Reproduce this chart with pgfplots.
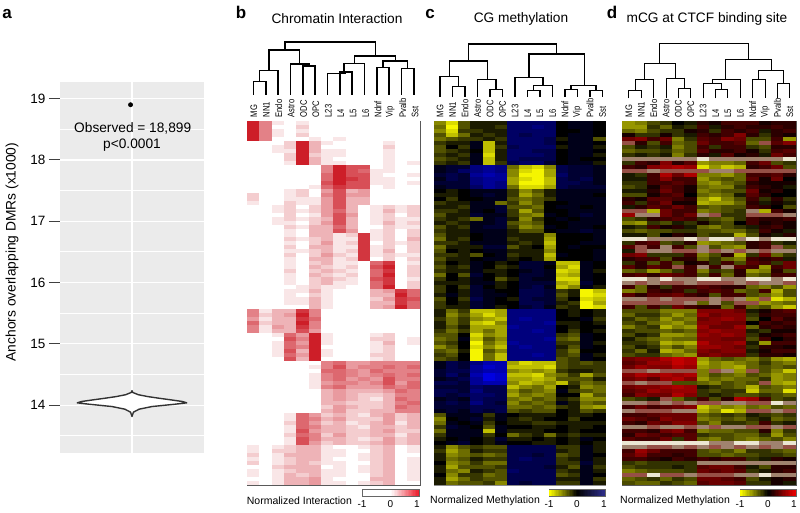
\documentclass[border=0pt]{standalone}
\usepackage{fontspec}
\setmainfont{Liberation Sans}
\usepackage{pgfplots}
\usepackage{pgfplotstable}
\pgfplotsset{compat=1.18}

\pgfplotsset{
  colormap={cb}{rgb255(0pt)=(255,255,255); rgb255(9pt)=(205,30,40)},
  colormap={cc}{rgb255(0pt)=(245,245,0); rgb255(9pt)=(0,0,0); rgb255(18pt)=(0,0,225)},
  colormap={cd}{rgb255(0pt)=(225,225,0); rgb255(9pt)=(0,0,0); rgb255(18pt)=(195,0,0); rgb255(19pt)=(150,80,70); rgb255(20pt)=(160,130,110); rgb255(21pt)=(235,230,210)},
  colormap={lb}{rgb255(0pt)=(255,255,255); rgb255(10pt)=(255,255,255); rgb255(20pt)=(235,25,40)},
  colormap={lc}{rgb255(0pt)=(255,255,0); rgb255(10pt)=(0,0,0); rgb255(20pt)=(45,45,140)},
  colormap={ld}{rgb255(0pt)=(255,255,0); rgb255(10pt)=(0,0,0); rgb255(20pt)=(240,0,0)},
}
\newcommand{\lab}[1]{\scalebox{.8}[1]{#1}}
\pgfdeclareplotmark{cell}{\pgfpathrectangle{\pgfpoint{-6.5pt}{-2.15pt}}{\pgfpoint{13pt}{4.3pt}}\pgfusepathqfill}
\pgfdeclareplotmark{barcell}{\pgfpathrectangle{\pgfpoint{-0.8pt}{-3.25pt}}{\pgfpoint{1.6pt}{6.5pt}}\pgfusepathqfill}
\pgfplotsset{
  heat/.style={scale only axis, anchor=south west, height=363.5pt, y dir=reverse, axis on top,
    xmin=-0.5, xmax=13.5, ymin=-0.5, ymax=90.5, ytick=\empty,
    xticklabel pos=top, major tick length=0pt,
    xticklabels={\lab{MG},\lab{NN1},\lab{Endo},\lab{Astro},\lab{ODC},\lab{OPC},\lab{L23},\lab{L4},\lab{L5},\lab{L6},\lab{Ndnf},\lab{Vip},\lab{Pvalb},\lab{Sst}},
    xticklabel style={rotate=90, anchor=west, inner sep=0pt, font=\fontsize{9.5}{9.5}\selectfont},
    xticklabel shift=4pt,
    axis line style={color=black!65, line width=1pt}},
  cellplot/.style={scatter, only marks, mark=cell, point meta=explicit,
    scatter/use mapped color={fill=mapped color}},
  dendro/.style={scale only axis, anchor=south west, hide axis, clip=false,
    y dir=reverse, ymin=30, ymax=100, height=70pt, unbounded coords=jump},
  cbar/.style={scale only axis, anchor=south west, height=6.5pt, xmin=-1, xmax=1, ymin=-1, ymax=1,
    ytick=\empty, xtick=\empty, axis on top, axis line style={black!60, line width=.8pt}},
  barplot/.style={scatter, only marks, mark=barcell, point meta=x, point meta min=-1, point meta max=1,
    scatter/use mapped color={fill=mapped color}},
}

\pgfplotstableread{
x y
-0.975 0
-0.925 0
-0.875 0
-0.825 0
-0.775 0
-0.725 0
-0.675 0
-0.625 0
-0.575 0
-0.525 0
-0.475 0
-0.425 0
-0.375 0
-0.325 0
-0.275 0
-0.225 0
-0.175 0
-0.125 0
-0.075 0
-0.025 0
0.025 0
0.075 0
0.125 0
0.175 0
0.225 0
0.275 0
0.325 0
0.375 0
0.425 0
0.475 0
0.525 0
0.575 0
0.625 0
0.675 0
0.725 0
0.775 0
0.825 0
0.875 0
0.925 0
0.975 0
}\barsteps

% panel b, normalized interaction, 0 to 9
\pgfplotstableread[header=false]{
9 5 1 0 1 0 0 0 0 0 0 0 0 0
9 5 0 0 2 0 0 0 0 0 0 0 0 0
9 5 1 0 1 0 0 0 0 0 0 0 0 0
9 5 1 0 2 0 0 0 0 0 0 0 0 0
9 5 0 0 0 1 0 1 0 0 0 0 0 0
0 0 0 2 9 3 1 0 0 0 0 1 0 0
0 0 1 2 9 3 0 0 0 0 0 2 0 0
0 0 1 1 9 3 1 1 0 0 0 1 0 0
0 0 0 2 9 2 1 1 0 0 0 1 0 0
0 0 0 2 9 3 1 0 0 0 0 1 0 0
0 0 0 1 9 3 1 1 0 0 0 1 0 1
0 0 0 0 0 0 5 9 7 7 0 1 0 0
0 0 0 0 0 0 5 9 7 6 1 1 0 0
0 0 0 0 0 0 6 9 7 7 1 0 0 1
0 0 0 0 0 0 6 9 8 7 1 1 0 0
0 0 0 0 0 0 7 9 7 7 1 1 0 1
0 0 0 0 0 1 6 8 7 7 0 1 0 0
0 0 0 1 2 0 4 7 3 4 0 0 0 0
2 0 0 1 2 0 5 7 4 4 0 0 0 0
2 0 0 1 1 1 4 7 3 3 0 0 0 0
1 0 0 2 1 1 4 7 3 3 0 0 0 0
0 0 1 2 0 2 4 7 3 0 1 2 1 2
0 0 1 2 1 2 4 6 3 0 1 3 1 2
0 0 0 2 0 1 4 7 4 0 1 2 0 2
0 0 1 2 1 2 3 7 3 0 1 2 1 1
0 0 1 1 0 2 4 7 3 0 1 3 1 2
0 0 0 2 1 3 3 6 3 0 0 2 1 1
0 0 0 1 0 3 3 7 4 0 1 2 0 2
0 0 0 1 0 3 3 1 2 8 1 2 0 2
0 0 0 2 1 2 3 1 1 8 1 2 0 3
0 0 0 1 0 2 4 1 2 8 0 2 1 2
0 0 0 2 0 3 3 1 1 8 1 2 0 2
0 0 0 1 1 2 3 1 2 8 1 3 0 2
0 0 0 2 0 2 4 2 1 8 1 2 1 1
0 0 0 1 0 3 3 1 2 8 0 2 0 2
0 0 0 1 0 2 3 1 1 0 6 8 0 1
0 0 0 1 0 3 2 1 2 0 7 9 0 2
0 0 0 2 0 2 3 2 1 0 6 8 0 2
0 0 0 1 0 3 2 1 2 0 6 9 0 2
0 0 0 1 0 2 3 2 1 0 7 8 0 1
0 0 0 1 0 2 3 1 1 0 6 8 0 2
0 0 0 0 1 2 1 1 0 0 6 9 0 2
0 0 0 1 1 3 1 0 0 0 3 4 8 6
0 0 0 1 0 2 1 0 0 0 3 3 9 6
0 0 0 1 1 3 1 0 0 0 2 4 8 7
0 0 0 1 1 3 1 0 0 0 3 3 8 6
0 0 0 0 0 3 1 0 0 0 3 4 9 6
5 1 3 3 8 5 0 0 0 0 0 0 0 0
5 2 3 4 9 5 0 0 0 0 0 0 0 0
4 1 3 3 8 6 0 0 0 0 0 0 0 0
6 2 3 3 9 5 0 0 0 0 0 0 0 0
5 1 4 3 8 5 0 0 0 0 0 0 0 0
5 1 3 3 7 4 0 0 0 0 0 0 0 0
0 0 1 6 4 9 1 0 0 0 1 2 0 0
0 0 0 7 5 9 1 0 0 0 2 2 0 1
0 0 1 6 4 9 1 0 0 0 1 3 0 1
0 0 1 6 5 9 0 0 0 0 1 2 0 0
0 0 1 7 3 9 1 0 0 0 1 2 0 0
0 0 1 6 4 9 1 0 0 0 2 2 0 0
0 0 0 7 3 9 0 0 0 0 1 2 0 0
0 0 0 0 0 0 5 6 4 4 5 5 5 5
0 0 0 0 0 1 5 7 4 5 5 6 5 6
0 0 0 0 0 0 6 6 5 4 6 5 5 5
0 0 0 0 0 1 5 6 5 4 5 6 5 6
0 0 0 0 0 1 5 6 4 5 4 7 5 5
0 0 0 0 0 1 4 5 5 4 5 7 4 6
0 0 0 0 0 1 5 6 4 4 4 6 5 6
0 0 0 0 0 0 3 4 3 3 3 4 6 5
0 0 0 0 0 0 3 4 3 2 2 3 5 5
0 0 0 0 0 0 3 4 3 2 1 3 6 5
0 0 0 0 0 0 3 3 2 2 2 3 5 6
0 0 0 0 0 0 2 4 3 2 2 3 6 5
0 0 0 0 0 0 3 4 2 2 3 3 5 5
0 0 0 1 6 4 2 3 2 1 3 4 2 3
0 0 0 1 6 5 3 4 2 2 2 4 2 3
0 0 0 2 6 4 2 3 1 2 3 4 1 3
0 0 0 1 6 5 3 3 2 1 3 3 2 3
0 0 0 1 7 4 3 3 2 2 3 4 2 2
0 0 0 2 6 5 2 4 2 2 3 3 1 3
0 0 0 1 7 5 3 3 2 1 2 4 2 3
0 0 0 1 7 4 2 3 2 2 3 4 2 3
1 0 1 2 3 3 1 0 0 1 2 3 0 1
1 0 2 2 3 3 1 1 0 0 2 3 0 1
2 0 1 3 3 3 1 1 0 1 2 3 0 0
1 0 1 2 3 3 1 0 0 1 2 3 0 1
2 0 1 2 3 2 1 1 0 0 2 3 0 1
0 0 2 3 3 3 0 1 0 1 2 3 0 1
1 0 1 2 3 3 1 1 0 1 2 3 0 1
1 0 1 3 2 3 1 1 0 0 2 3 0 1
0 0 1 3 3 4 1 0 0 0 3 3 0 1
1 0 1 3 3 4 1 1 0 1 2 3 0 0
}\tabb

% panel c, CG methylation, -9 (yellow) to 9 (blue)
\pgfplotstableread[header=false]{
-5 -8 -3 -1 -1 -1 4 4 4 4 0 1 1 0
-4 -9 -3 -1 -1 -2 4 4 5 4 0 1 1 0
-5 -8 -2 -2 -1 -1 4 4 4 4 0 0 1 0
-3 -7 -4 -1 -2 -1 4 3 4 4 0 1 1 0
-4 -3 -2 -2 -1 -2 4 4 4 3 -1 1 1 -3
-2 -1 -1 1 -7 -1 4 4 4 3 0 1 1 0
-3 0 -2 1 -7 -2 3 4 4 4 -1 1 1 -1
-3 -2 -1 0 -7 -1 4 4 3 3 0 1 1 0
-2 -1 -2 1 -8 -1 4 4 4 3 0 1 1 -1
-3 -2 -1 1 -7 -1 4 3 3 3 0 1 0 0
-2 -1 -2 1 -7 -2 3 4 4 2 0 1 1 -1
1 2 2 5 6 5 -4 -7 -8 -5 3 2 2 1
1 2 4 5 6 5 -5 -8 -9 -6 3 2 2 1
2 3 2 6 7 6 -5 -9 -9 -6 4 2 2 1
1 3 2 5 6 6 -6 -8 -9 -7 3 2 3 1
2 2 2 5 6 5 -6 -9 -9 -7 3 3 2 1
1 2 2 4 6 5 -4 -8 -8 -6 3 2 2 2
0 -1 0 1 1 1 -2 -5 -3 -1 1 1 1 1
-1 -1 0 1 2 1 -2 -6 -4 -1 1 1 1 0
0 -2 0 0 1 1 -3 -4 -3 -2 1 1 1 1
-2 -1 -1 1 1 -4 -2 -5 -3 0 0 1 1 1
-1 -1 -2 1 1 2 -3 -3 -4 0 1 1 0 1
-2 -2 -1 1 0 2 -2 -6 -3 0 0 1 1 1
-3 -1 -1 2 1 1 -2 -4 -5 1 0 1 2 1
-2 -1 -2 -4 1 2 -1 -5 -2 0 1 0 1 1
-1 -2 -1 1 1 2 -3 -4 -3 0 0 1 1 1
-3 -1 -2 1 2 2 -2 -5 -4 1 0 1 1 0
-2 -1 -1 1 1 1 -1 -3 -3 0 1 1 2 1
-3 -1 -1 0 1 1 -1 -1 -1 -5 0 0 0 1
-4 -1 -2 0 1 1 -2 -1 -1 -6 0 0 0 1
-2 -2 -1 1 1 1 -1 -2 -1 -7 0 0 1 1
-4 -1 -1 -1 2 2 -3 -1 0 -6 0 1 0 0
-3 0 -1 0 1 1 -1 -1 -1 -5 0 0 0 1
-2 -2 -1 -3 0 1 -2 -1 -1 -7 1 0 0 1
-3 -1 -1 0 1 1 -1 0 -1 -6 0 0 0 1
-2 0 -1 1 0 -1 0 2 2 1 -7 -7 1 0
-3 -1 -2 1 0 -2 -1 2 2 0 -6 -8 1 0
-2 -1 -1 1 -1 -1 0 1 2 1 -8 -7 1 -1
-4 0 -3 2 0 -1 0 2 2 1 -7 -6 1 0
-2 0 -1 1 0 -3 -1 2 1 1 -8 -8 1 0
-1 -1 -1 1 1 -1 0 2 2 2 -6 -7 2 0
-2 0 -2 2 0 -1 0 2 3 1 -7 -5 1 -1
-2 0 -1 2 1 0 0 3 3 2 -2 -1 -9 -7
-1 1 -1 2 1 1 0 3 3 2 -3 -1 -9 -8
-3 0 -2 3 1 0 -1 3 2 2 -2 0 -8 -7
-2 0 -1 2 1 0 0 3 3 2 -1 -2 -9 -6
-2 -1 -1 2 1 -1 0 2 3 1 -2 -1 -9 -8
-1 -4 -2 -7 -7 -6 5 5 5 5 0 -1 0 -1
-1 -5 -3 -6 -8 -6 5 5 5 5 0 -1 0 -1
-2 -4 -2 -5 -6 -7 5 6 5 5 0 0 1 -2
-1 -4 -2 -7 -8 -5 5 5 5 6 -1 -1 0 -1
-1 -3 -1 -6 -6 -6 6 5 5 5 0 -1 0 0
-2 -4 -2 -6 -4 -6 5 5 6 5 0 -2 0 -1
-3 -3 0 -8 -5 -6 5 5 5 5 -2 -3 1 0
-4 -3 1 -7 -3 -5 5 5 5 6 -3 -4 1 0
-3 -2 0 -9 -4 -6 6 5 5 5 -2 -2 1 -1
-5 -3 0 -8 -5 -7 5 6 5 5 -1 -3 1 0
-3 -4 -1 -9 -3 -5 5 5 5 5 -2 -4 0 0
-2 -3 0 -9 -4 -7 5 5 6 5 -2 -3 1 -1
-3 -2 0 -9 -4 -7 5 5 5 5 -3 -2 1 0
1 3 2 5 7 7 -6 -8 -7 -7 -3 -2 -3 -2
1 3 2 6 8 7 -7 -7 -7 -8 -3 -2 -2 -2
2 3 3 6 7 7 -5 -6 -5 -6 -2 -1 -1 -2
2 4 2 7 9 8 -7 -7 -8 -5 -4 -2 -6 -3
1 2 3 6 9 8 -6 -6 -7 -6 -3 -3 -3 -1
3 3 2 6 7 7 -5 -7 -6 -5 -7 -2 -4 -3
2 2 2 4 3 3 -7 -5 -4 -6 0 -1 -5 -4
3 3 2 5 3 3 -5 -3 -4 -5 1 -2 -3 -4
3 2 3 4 4 3 -6 -4 -5 -4 0 0 -6 -3
1 2 1 4 3 3 -4 -5 -3 -4 -1 -2 -5 -5
2 3 2 5 3 2 -5 -3 -4 -3 1 -1 -4 -3
2 2 2 3 3 3 -4 -4 -3 -4 -2 -1 -5 -6
1 2 1 3 2 3 -3 -2 -3 -3 0 -1 -3 -2
-3 1 1 1 -2 1 0 -1 -1 -1 0 -1 -1 0
-5 0 1 2 -1 1 -1 -2 -1 0 0 -2 0 0
-4 1 0 1 -2 0 -1 -1 -2 -2 -1 -1 -1 -1
-2 2 1 0 -3 1 0 0 -1 -1 0 -1 -1 0
-4 1 1 1 -7 1 -1 -1 -1 0 0 -1 0 0
-2 1 1 1 -2 0 -4 -2 -1 -4 -1 -2 -1 -1
-1 0 1 0 -1 2 -1 -1 0 -1 0 -1 1 0
0 1 2 0 -1 1 0 0 -1 -1 0 -1 0 -1
-1 -5 -3 -2 -3 -3 3 3 3 3 -2 -2 1 -1
-2 -6 -4 -1 -2 -2 3 3 3 3 -1 -2 1 -1
-1 -5 -4 -3 -4 -3 3 3 2 3 -3 -2 1 0
-1 -4 -3 -1 -2 -2 3 4 3 3 -2 -1 1 -1
0 -5 -4 -2 -4 -4 3 3 3 3 -2 -2 2 -1
-1 -6 -3 -3 -3 -2 3 3 3 2 -1 -3 1 -2
-1 -4 -5 -1 -2 -3 4 3 3 3 -2 -1 1 -1
0 -5 -2 -2 -4 -3 3 3 3 3 -3 -2 1 0
-1 -6 -4 -2 -3 -3 3 3 3 3 -1 -1 1 -2
-1 -4 -3 -3 -2 -5 3 2 3 3 -2 -2 1 -1
}\tabc

% panel d, mCG at CTCF sites, -9 (yellow) to 9 (red), 10 to 12 the pale streaks
\pgfplotstableread[header=false]{
-6 -5 -3 -2 0 -1 2 1 3 3 3 1 2 2
-6 -6 -2 -4 -1 -2 3 -1 2 3 2 2 3 2
-4 -5 -3 -2 -2 1 2 -2 3 2 3 -1 2 3
1 -2 -2 1 -2 -1 3 2 3 6 2 -2 2 1
5 6 3 5 -5 -2 4 3 6 5 -3 -3 3 -6
10 2 -3 3 -4 -3 5 3 3 4 -4 10 4 6
-3 -1 -2 -1 -5 -3 3 -2 3 3 -2 -3 2 2
-4 -3 -3 -2 -4 -3 4 2 2 3 1 -2 3 4
-2 -1 -2 -1 -5 -2 2 -1 4 1 2 -1 5 3
11 11 11 11 11 11 12 11 11 11 11 11 11 12
-2 3 2 6 2 4 -6 -5 -5 -4 3 5 -3 -2
3 2 6 7 8 7 -9 -6 -8 -7 2 3 5 -3
10 10 11 10 10 10 10 11 11 10 10 10 10 10
-1 -2 3 8 5 8 -5 -5 -6 -4 3 3 4 2
-1 -1 3 6 3 3 -6 -4 -3 -4 4 1 5 0
-2 -2 3 3 4 3 -5 -6 -4 -3 2 1 1 1
-3 -2 1 4 3 1 -4 -5 -5 -2 3 2 1 -1
-1 -1 2 5 3 1 -5 -4 -3 -3 5 1 2 0
-3 -3 1 3 4 0 -4 -5 -4 -1 4 2 0 0
2 1 4 4 3 2 -6 -8 -5 -3 3 -2 2 -2
3 -2 3 5 1 1 -7 -6 -6 -4 2 -1 1 -1
-1 2 4 3 5 3 -3 -4 -3 -3 3 2 0 -3
10 10 -7 5 3 3 -5 -4 -3 -2 11 -7 3 1
7 11 11 5 3 5 11 10 -2 -2 10 10 10 11
-3 -2 2 3 4 3 -2 -3 -4 -2 3 2 2 3
-5 -6 -2 -3 -1 -2 1 -2 -3 0 3 1 2 1
-1 -2 3 1 2 -1 -4 -5 -3 -2 -1 2 3 1
-3 -4 -3 -3 -2 -2 -3 -3 -4 -4 -2 3 1 -1
-1 -1 -3 0 2 1 -3 -2 -2 -7 -3 1 -1 2
12 12 11 11 11 12 11 12 12 11 12 11 12 12
-2 3 4 -3 -2 2 -6 -5 -4 -3 2 3 -2 -1
4 10 3 11 3 -3 11 -3 -5 -6 2 3 10 -3
-1 10 11 11 10 10 11 10 11 10 11 10 11 11
5 6 -2 -2 -2 3 -5 -3 2 -7 -2 5 -4 -2
2 3 3 -3 2 2 -4 -2 -4 -5 3 2 3 -1
-2 2 -3 3 -3 1 2 -2 3 -3 4 3 -2 5
4 2 4 3 10 3 11 3 11 4 3 -6 3 5
-4 -3 -6 -4 -2 3 -5 -2 -3 2 -6 -5 2 -3
3 4 2 5 4 3 -3 3 -4 2 -4 -3 3 3
12 12 11 12 11 11 12 12 11 11 12 12 11 12
11 10 11 10 10 11 10 10 10 11 10 11 11 10
3 -4 2 -2 3 3 4 3 2 2 -4 -5 -3 -6
-5 -4 3 2 3 -2 3 4 3 -4 -3 3 -7 -3
4 2 4 4 5 3 2 -3 3 3 -3 -4 -6 -3
11 11 10 11 10 10 10 11 10 11 -6 10 -9 -7
10 10 10 10 10 11 -4 11 -3 10 10 -6 -5 -4
3 -3 3 -2 5 3 2 2 -4 3 -4 -3 -6 -8
-3 -3 -3 -5 -5 -5 6 6 6 5 -1 1 3 4
-4 -2 -2 -4 -6 -4 7 5 6 6 -2 2 3 3
-2 -4 -3 -6 -4 -5 5 6 7 6 -3 0 4 2
-3 -2 -4 -5 -6 -4 6 6 5 5 0 3 2 3
-5 -3 -2 -7 -5 -6 7 5 5 7 -4 2 3 2
-2 -3 -3 -4 -3 -4 6 7 6 6 -1 -2 1 1
-3 -1 -2 -6 -6 -5 7 6 7 6 -2 1 2 3
-1 -3 -4 -5 -4 -4 6 6 5 5 -3 3 0 2
-2 -2 -3 -7 -6 -7 8 6 6 7 -1 -6 3 3
-3 -1 -2 -5 -3 -5 7 7 6 5 -2 2 2 1
-2 -4 -1 -7 -6 -4 6 5 6 6 -1 1 3 3
-3 -2 -2 -4 -5 -6 5 6 5 5 -2 2 2 1
5 6 6 8 9 8 -6 -4 -3 -4 -5 -3 -6 -7
4 5 7 7 9 8 -7 -5 -6 -5 -4 -2 -4 -5
5 7 6 6 8 7 -6 -5 -6 -7 -4 -3 -4 -3
10 10 11 10 10 10 -5 10 11 -6 10 -3 -5 -8
6 8 7 8 7 8 -5 -3 -4 -5 -3 -4 -6 -5
5 6 4 7 8 6 -6 -4 -5 -4 -4 -2 -6 -5
10 11 10 10 -3 -3 -4 -5 -3 -4 -3 10 -6 -7
5 6 6 7 8 7 -1 -2 -3 -4 -7 -3 -4 -5
4 5 7 6 7 7 -2 -3 -2 -2 -8 -4 -4 -9
3 6 5 5 8 6 -2 -1 -2 -3 -3 -2 -3 -4
-3 -2 -1 10 -4 -2 3 -3 2 8 7 3 -3 -2
11 11 10 11 10 11 10 10 11 11 10 10 12 11
3 5 3 4 5 6 -8 -6 -5 -6 -4 -5 -3 -4
11 10 10 10 11 11 -7 -5 -9 -7 10 10 11 10
3 3 4 5 5 5 -4 -3 -2 -3 -1 -2 -3 -2
5 4 3 6 5 5 -5 -4 -3 -4 -2 -1 -4 -3
3 2 5 4 6 6 -3 -5 -2 -2 -3 3 -2 -1
11 11 10 11 11 10 11 10 11 11 10 10 11 10
3 3 2 5 6 3 -5 -4 -4 -3 -3 2 -5 -2
2 5 4 3 4 4 -2 -3 -3 -4 -4 -2 -6 -3
4 3 3 5 -2 4 -4 -5 -3 -4 -5 -4 -3 -5
12 12 12 12 12 12 12 11 11 12 12 11 11 12
11 11 10 10 11 10 11 10 11 10 11 10 11 10
3 7 5 3 3 3 -3 -4 -3 -5 -2 -2 -3 -4
4 6 3 3 2 3 -3 -3 -4 -3 -3 -2 -2 -3
3 3 2 1 3 2 3 2 3 3 -2 -1 2 1
-2 -3 -2 -2 -2 -2 11 11 11 11 11 11 11 11
-3 -2 -2 -2 -1 -2 4 5 5 3 -1 -3 2 2
-5 -4 -3 -3 -3 -2 5 4 5 4 -2 -1 2 3
10 10 12 10 10 11 10 10 10 11 11 12 11 11
-4 -3 -2 -4 -2 -3 5 5 4 3 -3 -1 1 2
-3 -4 -4 -2 -3 -4 4 5 5 4 -2 -2 1 -1
-5 -4 -3 -2 -3 -5 5 3 4 4 -1 -2 2 1
}\tabd

\begin{document}
\begin{tikzpicture}[x=1pt,y=1pt]
\useasboundingbox (0,0) rectangle (800,512);

% a
\begin{axis}[scale only axis, anchor=south west, at={(60pt,59pt)}, width=144pt, height=371pt,
    xmin=-1, xmax=1, ymin=13.22, ymax=19.27,
    axis background/.style={fill=black!8},
    axis line style={draw=none},
    xtick={0}, xticklabels={}, major x tick style={draw=none},
    ytick={14,15,16,17,18,19},
    minor ytick={13.5,14.5,15.5,16.5,17.5,18.5},
    tick style={black!75, line width=.9pt},
    tick align=outside,
    major tick length=11pt, minor tick length=0pt,
    tick pos=left,
    grid=both,
    major grid style={white, line width=1.3pt},
    minor grid style={white, line width=1pt},
    yticklabel style={font=\fontsize{13.5}{13.5}\selectfont, /pgf/number format/assume math mode=true},
    clip=false]
  \addplot[fill=white, draw=black!80, line width=1.4pt, line join=round] coordinates {
    (0,14.24) (0.01,14.207) (0.09,14.17) (0.22,14.14) (0.37,14.114) (0.55,14.085) (0.7,14.06) (0.76,14.038)
    (0.6,14.016) (0.28,13.978) (0.1,13.935) (0.02,13.886) (0,13.815)
    (-0.02,13.886) (-0.1,13.935) (-0.28,13.978) (-0.6,14.016) (-0.76,14.038)
    (-0.7,14.06) (-0.55,14.085) (-0.37,14.114) (-0.22,14.14) (-0.09,14.17) (-0.01,14.207) (0,14.24)};
  \addplot[only marks, mark=*, mark size=2.2pt, black] coordinates {(-0.02,18.899)};
\end{axis}

% b
\begin{axis}[heat, at={(247.3pt,27pt)}, width=172.7pt, colormap name=cb, point meta min=0, point meta max=9,
    xtick={0.04,1.04,2.05,3.05,4.06,5.06,6.07,7.07,8.08,9.08,10.09,11.09,12.1,13.1}]
  \pgfplotsinvokeforeach{0,...,13}{
    \addplot[cellplot] table[x expr=#1, y expr=\coordindex, meta index=#1] {\tabb};}
\end{axis}
\begin{axis}[dendro, at={(247.3pt,412pt)}, width=172.7pt, xmin=-0.5, xmax=13.5]
  \addplot[black, line width=1.4pt] coordinates {
    (0,95)(0,81.7)(1,81.7)(1,95) (0,nan)
    (0.5,81.7)(0.5,70.7)(2,70.7)(2,95) (0,nan)
    (4,95)(4,66)(5,66)(5,95) (0,nan)
    (3,95)(3,64)(4.5,64)(4.5,66) (0,nan)
    (1.25,70.7)(1.25,50)(3.75,50)(3.75,64) (0,nan)
    (7,95)(7,72)(8,72)(8,95) (0,nan)
    (6,95)(6,73.3)(7.5,73.3) (0,nan)
    (7.34,73)(7.34,63.3)(9,63.3)(9,95) (0,nan)
    (10,95)(10,67.3)(11,67.3)(11,95) (0,nan)
    (12,95)(12,68.3)(13,68.3)(13,95) (0,nan)
    (10.5,67.3)(10.5,61)(12.5,61)(12.5,68.3) (0,nan)
    (8.18,63.3)(8.18,56)(11.5,56)(11.5,61) (0,nan)
    (2.55,50)(2.55,42)(9.88,42)(9.88,56)};
\end{axis}
\begin{axis}[cbar, at={(362.7pt,16pt)}, width=56.5pt, colormap name=lb]
  \addplot[barplot] table[x=x, y=y] {\barsteps};
\end{axis}

% c
\begin{axis}[heat, at={(434pt,27pt)}, width=171.3pt, colormap name=cc, point meta min=-9, point meta max=9,
    axis line style={color=black!45, line width=.8pt},
    xtick={0,1.02,2.04,3.06,4.08,5.1,6.12,7.14,8.16,9.19,10.21,11.23,12.25,13.27}]
  \pgfplotsinvokeforeach{0,...,13}{
    \addplot[cellplot] table[x expr=#1, y expr=\coordindex, meta index=#1] {\tabc};}
\end{axis}
\begin{axis}[dendro, at={(434pt,412pt)}, width=171.3pt, xmin=-0.48, xmax=13.24]
  \addplot[black, line width=1.4pt] coordinates {
    (1,96.7)(1,86.7)(2,86.7)(2,96.7) (0,nan)
    (0,96.7)(0,76.7)(1.5,76.7)(1.5,86.7) (0,nan)
    (4,96.7)(4,89.3)(5,89.3)(5,96.7) (0,nan)
    (3,96.7)(3,79.3)(4.5,79.3)(4.5,89.3) (0,nan)
    (0.75,76.7)(0.75,61)(3.79,61)(3.79,79.3) (0,nan)
    (7,96.7)(7,90.7)(8,90.7)(8,96.7) (0,nan)
    (7.5,90.7)(7.5,85.3)(9,85.3)(9,96.7) (0,nan)
    (6,96.7)(6,77.3)(8.25,77.3)(8.25,85.3) (0,nan)
    (10,96.7)(10,89.3)(11,89.3)(11,96.7) (0,nan)
    (12,96.7)(12,90.7)(13,90.7)(13,96.7) (0,nan)
    (10.5,89.3)(10.5,85.7)(12.5,85.7)(12.5,90.7) (0,nan)
    (7.13,77.3)(7.13,54)(11.56,54)(11.56,85.7) (0,nan)
    (2.27,61)(2.27,44)(9.34,44)(9.34,54)};
\end{axis}
\begin{axis}[cbar, at={(549.5pt,16pt)}, width=55.5pt, colormap name=lc]
  \addplot[barplot] table[x=x, y=y] {\barsteps};
\end{axis}

% d
\begin{axis}[heat, at={(622.7pt,27pt)}, width=173.3pt, colormap name=cd, point meta min=-9, point meta max=12,
    xtick={0,1,2,3,4,5,6,7,8,9,10,11,12,13}]
  \pgfplotsinvokeforeach{0,...,13}{
    \addplot[cellplot] table[x expr=#1, y expr=\coordindex, meta index=#1] {\tabd};}
\end{axis}
\begin{axis}[dendro, at={(622.7pt,412pt)}, width=173.3pt, xmin=-0.5, xmax=13.5]
  \addplot[black, line width=1pt] coordinates {
    (0,98.3)(0,90.7)(1,90.7)(1,98.3) (0,nan)
    (0.5,90.7)(0.5,80)(2,80)(2,98.3) (0,nan)
    (4,98.3)(4,88.3)(5,88.3)(5,98.3) (0,nan)
    (3,98.3)(3,78.7)(4.5,78.7)(4.5,88.3) (0,nan)
    (1.25,80)(1.25,63.3)(3.76,63.3)(3.76,78.7) (0,nan)
    (7,98.3)(7,90)(8,90)(8,98.3) (0,nan)
    (6,98.3)(6,83.3)(7.5,83.3)(7.5,90) (0,nan)
    (6.75,83.3)(6.75,80)(9,80)(9,98.3) (0,nan)
    (10,98.3)(10,80)(11,80)(11,98.3) (0,nan)
    (12,98.3)(12,84)(13,84)(13,98.3) (0,nan)
    (10.5,80)(10.5,70.7)(12.5,70.7)(12.5,84) (0,nan)
    (7.83,80)(7.83,60)(11.5,60)(11.5,70.7) (0,nan)
    (2.49,63.3)(2.49,43.3)(9.63,43.3)(9.63,60)};
\end{axis}
\begin{axis}[cbar, at={(740.5pt,16pt)}, width=55.5pt, colormap name=ld]
  \addplot[barplot] table[x=x, y=y] {\barsteps};
\end{axis}

% text
\node[font=\bfseries\fontsize{17}{17}\selectfont] at (7,498) {a};
\node[font=\bfseries\fontsize{17}{17}\selectfont] at (241,500) {b};
\node[font=\bfseries\fontsize{17}{17}\selectfont] at (430,498) {c};
\node[font=\bfseries\fontsize{17}{17}\selectfont] at (612,500) {d};
\node[font=\fontsize{13.7}{13.7}\selectfont] at (337,493) {Chromatin Interaction};
\node[font=\fontsize{13.7}{13.7}\selectfont] at (521,493) {CG methylation};
\node[font=\fontsize{13.7}{13.7}\selectfont] at (707,493) {mCG at CTCF binding site};
\node[font=\fontsize{13.7}{13.7}\selectfont] at (132.7,384) {Observed = 18,899};
\node[font=\fontsize{13.7}{13.7}\selectfont] at (132,367) {p<0.0001};
\node[font=\fontsize{13.8}{13.8}\selectfont, rotate=90] at (12,260) {Anchors overlapping DMRs (x1000)};
\node[font=\fontsize{10.5}{10.5}\selectfont, anchor=west, inner sep=0pt] at (246.7,11.3) {Normalized Interaction};
\node[font=\fontsize{10.5}{10.5}\selectfont, anchor=west, inner sep=0pt] at (430,11.3) {Normalized Methylation};
\node[font=\fontsize{10.5}{10.5}\selectfont, anchor=west, inner sep=0pt] at (620,11.3) {Normalized Methylation};
\node[font=\fontsize{10}{10}\selectfont] at (362,8) {-1};
\node[font=\fontsize{10}{10}\selectfont] at (390.5,8) {0};
\node[font=\fontsize{10}{10}\selectfont] at (417,8) {1};
\node[font=\fontsize{10}{10}\selectfont] at (549,8) {-1};
\node[font=\fontsize{10}{10}\selectfont] at (577,8) {0};
\node[font=\fontsize{10}{10}\selectfont] at (604,8) {1};
\node[font=\fontsize{10}{10}\selectfont] at (740,8) {-1};
\node[font=\fontsize{10}{10}\selectfont] at (768,8) {0};
\node[font=\fontsize{10}{10}\selectfont] at (794,8) {1};
\end{tikzpicture}
\end{document}
